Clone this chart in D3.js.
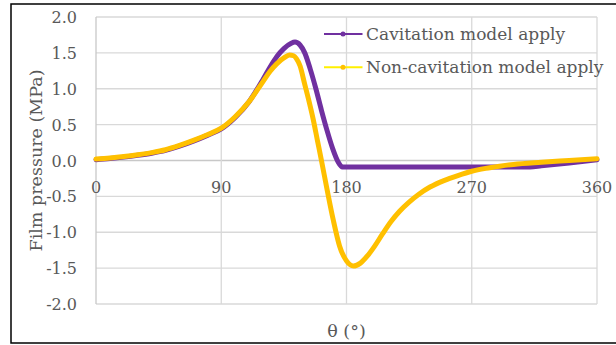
<!DOCTYPE html>
<html>
<head>
<meta charset="utf-8">
<script src="https://cdn.jsdelivr.net/npm/d3@7"></script>
<style>
  html, body { margin: 0; padding: 0; background: #fff; }
  text { font-family: 'DejaVu Serif', serif; fill: #595959; }
</style>
</head>
<body>
<div id="chart"></div>
<script>
// values
const xTicks = [0, 90, 180, 270, 360]
const yTicks = [-2.0, -1.5, -1.0, -0.5, 0.0, 0.5, 1.0, 1.5, 2.0]

const thetaCav = [0, 10, 20, 30, 40, 50, 60, 70, 80, 90, 100, 110, 120, 125, 130, 135, 140, 143, 146.6, 150, 154, 158, 162, 166, 170, 174, 177, 180, 200, 240, 280, 312, 320, 340, 360]
const pCav = [0.012, 0.027, 0.047, 0.072, 0.102, 0.142, 0.2, 0.27, 0.35, 0.44, 0.6, 0.82, 1.13, 1.3, 1.45, 1.56, 1.63, 1.65, 1.61, 1.5, 1.27, 1.0, 0.7, 0.42, 0.17, -0.02, -0.09, -0.09, -0.09, -0.09, -0.09, -0.09, -0.075, -0.035, 0.01]

const thetaNonCav = [0, 10, 20, 30, 40, 50, 60, 70, 80, 90, 100, 110, 120, 125, 130, 135, 139, 142, 144, 146.6, 150, 153, 156, 159, 162, 166, 170.5, 175, 180, 185, 190, 195, 200, 206, 212, 218, 225, 232, 240, 250, 260, 270, 280, 290, 300, 320, 340, 360]
const pNonCav = [0.02, 0.035, 0.055, 0.08, 0.11, 0.15, 0.21, 0.28, 0.36, 0.45, 0.61, 0.82, 1.1, 1.24, 1.35, 1.43, 1.47, 1.46, 1.42, 1.32, 1.06, 0.83, 0.58, 0.29, 0.0, -0.4, -0.83, -1.19, -1.4, -1.47, -1.43, -1.33, -1.2, -1.02, -0.85, -0.71, -0.58, -0.47, -0.37, -0.28, -0.21, -0.15, -0.11, -0.08, -0.055, -0.025, 0.0, 0.025]

const seriesNames = ['Cavitation model apply', 'Non-cavitation model apply']
const seriesColors = ['#7030a0', '#ffc000']
const legendLineColors = ['#7030a0', '#fff000']

const width = 616
const height = 345

const svg = d3.select('#chart')
  .append('svg')
  .attr('width', width)
  .attr('height', height)

// outer chart border
svg.append('rect')
  .attr('x', 11)
  .attr('y', 4)
  .attr('width', 620)
  .attr('height', 339)
  .attr('fill', 'none')
  .attr('stroke', '#000')
  .attr('stroke-width', 1.5)

const x = d3.scaleLinear().domain([0, 360]).range([96, 597])
const y = d3.scaleLinear().domain([-2, 2]).range([304, 17])

// gridlines
svg.append('g')
  .selectAll('line')
  .data(yTicks)
  .enter()
  .append('line')
  .attr('x1', x(0))
  .attr('x2', x(360))
  .attr('y1', d => y(d))
  .attr('y2', d => y(d))
  .attr('stroke', d => d === 0 ? '#c8c8c8' : '#d9d9d9')
  .attr('stroke-width', 1.3)

svg.append('g')
  .selectAll('line')
  .data(xTicks)
  .enter()
  .append('line')
  .attr('x1', d => x(d))
  .attr('x2', d => x(d))
  .attr('y1', y(2))
  .attr('y2', y(-2))
  .attr('stroke', d => d === 0 ? '#c8c8c8' : '#d9d9d9')
  .attr('stroke-width', 1.3)

// tick labels
svg.append('g')
  .selectAll('text')
  .data(yTicks)
  .enter()
  .append('text')
  .attr('x', 77)
  .attr('y', d => y(d) + 6)
  .attr('text-anchor', 'end')
  .style('font-size', '16px')
  .text(d => d3.format('.1f')(d).replace('−', '-'))

svg.append('g')
  .selectAll('text')
  .data(xTicks)
  .enter()
  .append('text')
  .attr('x', d => x(d))
  .attr('y', 193)
  .attr('text-anchor', 'middle')
  .style('font-size', '16px')
  .text(d => d)

// axis titles
svg.append('text')
  .attr('x', (x(0) + x(360)) / 2)
  .attr('y', 337)
  .attr('text-anchor', 'middle')
  .style('font-size', '17.5px')
  .text('θ (°)')

svg.append('text')
  .attr('transform', `translate(42, ${(y(2) + y(-2)) / 2}) rotate(-90)`)
  .attr('text-anchor', 'middle')
  .style('font-size', '17.5px')
  .text('Film pressure (MPa)')

// curves
const line = d3.line()
  .x(d => x(d[0]))
  .y(d => y(d[1]))
  .curve(d3.curveMonotoneX)

const series = [
  d3.zip(thetaCav, pCav),
  d3.zip(thetaNonCav, pNonCav)
]

svg.append('g')
  .selectAll('path')
  .data(series)
  .enter()
  .append('path')
  .attr('d', line)
  .attr('fill', 'none')
  .attr('stroke', (d, i) => seriesColors[i])
  .attr('stroke-width', 5)
  .attr('stroke-linecap', 'round')
  .attr('stroke-linejoin', 'round')

// legend
const legend = svg.append('g')
  .selectAll('g')
  .data(seriesNames)
  .enter()
  .append('g')
  .attr('transform', (d, i) => `translate(0, ${34 + i * 33.3})`)

legend.append('line')
  .attr('x1', 324)
  .attr('x2', 362.5)
  .attr('stroke', (d, i) => legendLineColors[i])
  .attr('stroke-width', 2)

legend.append('circle')
  .attr('cx', 343)
  .attr('r', 2.5)
  .attr('fill', (d, i) => seriesColors[i])

legend.append('text')
  .attr('x', 366)
  .attr('y', 6)
  .style('font-size', '17px')
  .text(d => d)
</script>
</body>
</html>
